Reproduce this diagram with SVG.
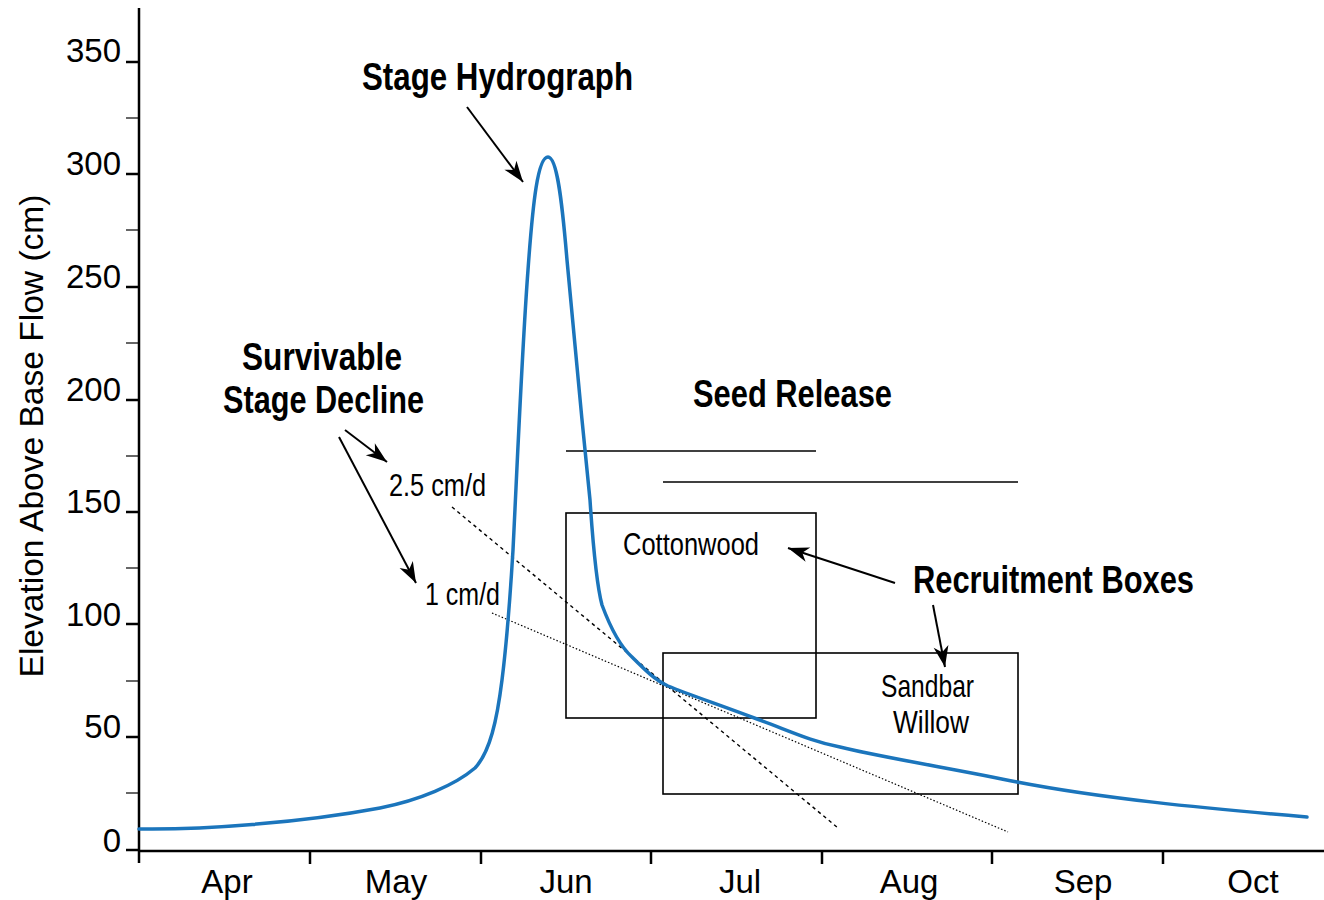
<svg xmlns="http://www.w3.org/2000/svg" width="1324" height="900" viewBox="0 0 1324 900">
<style>
.axis{stroke:#000;stroke-width:2.5;fill:none}
.major{stroke:#000;stroke-width:2.5}
.minor{stroke:#000;stroke-width:1.2}
.tick{font-family:"Liberation Sans",Arial,sans-serif;font-size:33px;fill:#000}
.bold{font-family:"Liberation Sans",Arial,sans-serif;font-weight:bold;font-size:39px;fill:#000}
.lab{font-family:"Liberation Sans",Arial,sans-serif;font-size:32px;fill:#000}
.box{fill:none;stroke:#000;stroke-width:1.6}
.seed{stroke:#000;stroke-width:1.4}
.arrow{stroke:#000;stroke-width:2;fill:none;marker-end:url(#ah)}
.curve{fill:none;stroke:#1b75bc;stroke-width:3.5;stroke-linejoin:round;stroke-linecap:round}
</style>
<defs>
<marker id="ah" markerUnits="userSpaceOnUse" markerWidth="24" markerHeight="18" viewBox="-22 -9 24 18" refX="0" refY="0" orient="auto">
<path d="M0,0 L-21,-7.5 L-15,0 L-21,7.5 Z" fill="#000"/>
</marker>
</defs>
<rect width="1324" height="900" fill="#fff"/>

<g id="axes">
<line class="axis" x1="139" y1="8" x2="139" y2="863"/>
<line class="axis" x1="138" y1="851" x2="1324" y2="851"/>
<g id="yticks">
<line class="major" x1="126" y1="62" x2="139" y2="62"/>
<line class="major" x1="126" y1="174" x2="139" y2="174"/>
<line class="major" x1="126" y1="287" x2="139" y2="287"/>
<line class="major" x1="126" y1="400" x2="139" y2="400"/>
<line class="major" x1="126" y1="512" x2="139" y2="512"/>
<line class="major" x1="126" y1="624" x2="139" y2="624"/>
<line class="major" x1="126" y1="737" x2="139" y2="737"/>
<line class="major" x1="126" y1="850" x2="139" y2="850"/>
<line class="minor" x1="126" y1="118" x2="139" y2="118"/>
<line class="minor" x1="126" y1="230" x2="139" y2="230"/>
<line class="minor" x1="126" y1="343" x2="139" y2="343"/>
<line class="minor" x1="126" y1="456" x2="139" y2="456"/>
<line class="minor" x1="126" y1="568" x2="139" y2="568"/>
<line class="minor" x1="126" y1="681" x2="139" y2="681"/>
<line class="minor" x1="126" y1="793" x2="139" y2="793"/>
</g>
<g id="ylabels" text-anchor="end">
<text class="tick" x="121" y="62">350</text>
<text class="tick" x="121" y="175">300</text>
<text class="tick" x="121" y="288">250</text>
<text class="tick" x="121" y="401">200</text>
<text class="tick" x="121" y="513">150</text>
<text class="tick" x="121" y="626">100</text>
<text class="tick" x="121" y="738">50</text>
<text class="tick" x="121" y="852">0</text>
</g>
<g id="xticks">
<line class="major" x1="310" y1="851" x2="310" y2="864"/>
<line class="major" x1="481" y1="851" x2="481" y2="864"/>
<line class="major" x1="651" y1="851" x2="651" y2="864"/>
<line class="major" x1="822" y1="851" x2="822" y2="864"/>
<line class="major" x1="992" y1="851" x2="992" y2="864"/>
<line class="major" x1="1163" y1="851" x2="1163" y2="864"/>
</g>
<g id="xlabels" text-anchor="middle">
<text class="tick" x="227" y="893">Apr</text>
<text class="tick" x="396" y="893">May</text>
<text class="tick" x="566" y="893">Jun</text>
<text class="tick" x="740" y="893">Jul</text>
<text class="tick" x="909" y="893">Aug</text>
<text class="tick" x="1083" y="893">Sep</text>
<text class="tick" x="1253" y="893">Oct</text>
</g>
<text class="tick" text-anchor="middle" transform="translate(43,436) rotate(-90)" textLength="483" lengthAdjust="spacingAndGlyphs">Elevation Above Base Flow (cm)</text>
</g>

<g id="seed-release">
<line class="seed" x1="566" y1="451" x2="816" y2="451"/>
<line class="seed" x1="663" y1="482" x2="1018" y2="482"/>
<text class="bold" x="693" y="407" textLength="199" lengthAdjust="spacingAndGlyphs">Seed Release</text>
</g>

<g id="cottonwood-box">
<rect class="box" x="566" y="513" width="250" height="205"/>
<text class="lab" x="623" y="555" textLength="136" lengthAdjust="spacingAndGlyphs">Cottonwood</text>
</g>

<g id="willow-box">
<rect class="box" x="663" y="653" width="355" height="141"/>
<text class="lab" x="881" y="697" textLength="93" lengthAdjust="spacingAndGlyphs">Sandbar</text>
<text class="lab" x="893" y="733" textLength="76" lengthAdjust="spacingAndGlyphs">Willow</text>
</g>

<g id="decline-lines">
<line x1="452" y1="507" x2="838" y2="828" stroke="#000" stroke-width="1.4" stroke-dasharray="3.5,3.5"/>
<line x1="492" y1="613" x2="1008" y2="832" stroke="#000" stroke-width="1.2" stroke-dasharray="1.5,2"/>
<text class="lab" x="389" y="496" textLength="97" lengthAdjust="spacingAndGlyphs">2.5 cm/d</text>
<text class="lab" x="425" y="605" textLength="75" lengthAdjust="spacingAndGlyphs">1 cm/d</text>
</g>

<g id="hydrograph">
<path class="curve" d="M139,829 C200,830 300,823 380,808 C420,800 455,785 475,768 C490,752 497,720 502,680 C507,640 510,600 513,550 C517,470 522,350 528,270 C533,200 538,157 548,157 C557,157 562,200 567,260 C573,330 582,420 590,500 C594,560 598,590 602,605 C612,632 622,648 632,657 C645,670 655,680 668,686 C690,695 720,705 757,719 C790,731 810,741 840,747 C880,757 960,770 1017,782 C1100,798 1200,808 1307,817"/>
<text class="bold" x="362" y="90" textLength="271" lengthAdjust="spacingAndGlyphs">Stage Hydrograph</text>
</g>

<g id="survivable-label">
<text class="bold" x="242" y="370" textLength="160" lengthAdjust="spacingAndGlyphs">Survivable</text>
<text class="bold" x="223" y="413" textLength="201" lengthAdjust="spacingAndGlyphs">Stage Decline</text>
</g>

<g id="recruitment-label">
<text class="bold" x="913" y="593" textLength="281" lengthAdjust="spacingAndGlyphs">Recruitment Boxes</text>
</g>

<g id="connectors">
<line class="arrow" x1="467" y1="107" x2="523" y2="182"/>
<line class="arrow" x1="345" y1="430" x2="387" y2="462"/>
<line class="arrow" x1="339" y1="437" x2="416" y2="583"/>
<line class="arrow" x1="895" y1="583" x2="788" y2="548"/>
<line class="arrow" x1="933" y1="605" x2="945" y2="667"/>
</g>
</svg>
